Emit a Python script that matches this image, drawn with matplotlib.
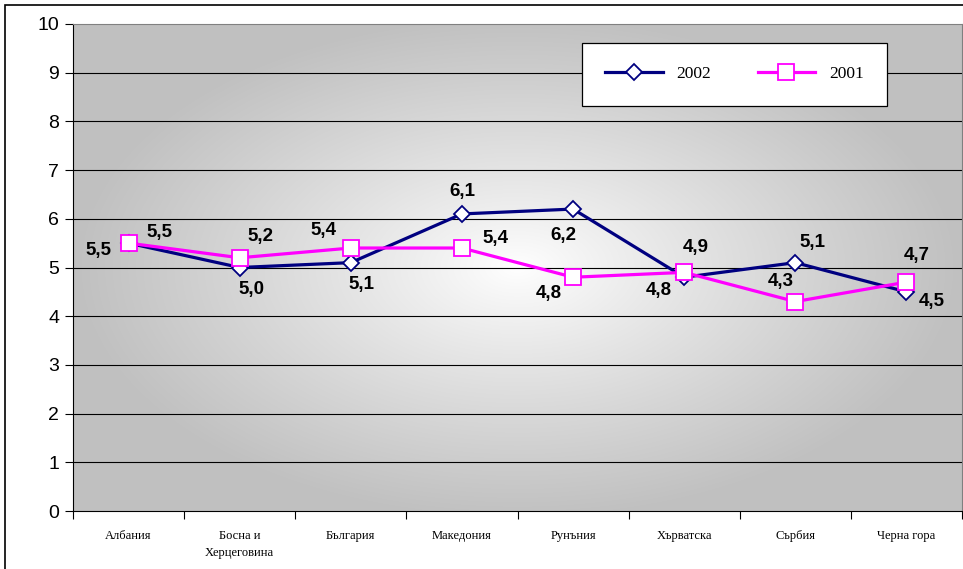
import numpy as np
import matplotlib
matplotlib.use('Agg')
import matplotlib.pyplot as plt
from matplotlib.patches import Rectangle

countries = ['Албания', 'Босна и\nХерцеговина', 'България', 'Македония',
             'Рунъния', 'Хърватска', 'Сърбия', 'Черна гора']
values_2002 = [5.5, 5.0, 5.1, 6.1, 6.2, 4.8, 5.1, 4.5]
values_2001 = [5.5, 5.2, 5.4, 5.4, 4.8, 4.9, 4.3, 4.7]

# label offsets in pixels (dx, dy)
offs_2002 = [(-30, -7), (12, -22), (11, -22), (0, 22), (-10, -26),
             (-25, -13), (17, 20), (25, -10)]
offs_2001 = [(31, 11), (21, 21), (-27, 18), (34, 10), (-24, -16),
             (12, 25), (-15, 20), (10, 27)]

fig = plt.figure(figsize=(9.63, 5.69), dpi=100)
ax = fig.add_axes([73 / 963, 1 - 511 / 569, 889 / 963, 487 / 569])

n = len(countries)
x = np.arange(n)
ax.set_xlim(-0.5, n - 0.5)
ax.set_ylim(0, 10)

# radial gray -> white background
gx, gy = np.meshgrid(np.linspace(0, 1, 400), np.linspace(0, 1, 300))
r = np.sqrt(((gx - 0.50) / 0.50) ** 2 + ((gy - 0.50) / 0.52) ** 2)
r = np.clip(r, 0, 1) ** 0.9
shade = 1.0 - (1.0 - 0.753) * r
img = np.dstack([shade, shade, shade])
ax.imshow(img, extent=(-0.5, n - 0.5, 0, 10), aspect='auto', origin='lower',
          zorder=0, interpolation='bilinear')

for yv in range(1, 10):
    ax.axhline(yv, color='black', lw=0.8, zorder=1)

ax.plot(x, values_2002, color='#000080', lw=2.3, marker='D', ms=8,
        mfc='white', mec='#000080', mew=1.3, label='2002', zorder=3)
ax.plot(x, values_2001, color='#FF00FF', lw=2.3, marker='s', ms=12,
        mfc='white', mec='#FF00FF', mew=1.3, label='2001', zorder=4)

for xi, v, (dx, dy) in zip(x, values_2002, offs_2002):
    ax.annotate(('%.1f' % v).replace('.', ','), (xi, v), xytext=(dx, dy),
                textcoords='offset pixels', ha='center', va='center',
                fontsize=13.5, fontweight='bold', family='Liberation Sans', zorder=5)
for xi, v, (dx, dy) in zip(x, values_2001, offs_2001):
    ax.annotate(('%.1f' % v).replace('.', ','), (xi, v), xytext=(dx, dy),
                textcoords='offset pixels', ha='center', va='center',
                fontsize=13.5, fontweight='bold', family='Liberation Sans', zorder=5)

ax.set_yticks(range(0, 11))
ax.set_yticklabels([str(i) for i in range(0, 11)], family='Liberation Sans', fontsize=14)
ax.tick_params(axis='y', length=6, width=0.8, pad=4)

ax.set_xticks(x)
ax.set_xticklabels(countries, family='Liberation Serif', fontsize=9, linespacing=1.5)
ax.tick_params(axis='x', which='major', length=0, pad=14)
ax.set_xticks(np.arange(-0.5, n, 1), minor=True)
ax.tick_params(axis='x', which='minor', length=6, width=0.8)

for s in ['left', 'bottom']:
    ax.spines[s].set_color('black')
    ax.spines[s].set_linewidth(0.8)
for s in ['top', 'right']:
    ax.spines[s].set_color('#808080')
    ax.spines[s].set_linewidth(0.8)

leg = ax.legend(loc='center', bbox_to_anchor=(0.5726, 0.832, 0.343, 0.129),
                mode='expand', ncol=2, frameon=True, fancybox=False,
                framealpha=1, borderpad=1.35, borderaxespad=0,
                handlelength=3.3, columnspacing=2.5,
                prop={'family': 'Liberation Serif', 'size': 12.5})
leg.get_frame().set_facecolor('white')
leg.get_frame().set_edgecolor('black')
leg.get_frame().set_linewidth(0.9)
leg.set_zorder(6)

fig.patches.append(Rectangle((5 / 963, -0.02), 1.0, 1 - 5 / 569 + 0.02,
                             transform=fig.transFigure, fill=False,
                             edgecolor='black', lw=1.2))

plt.savefig('out.png', dpi=100)
